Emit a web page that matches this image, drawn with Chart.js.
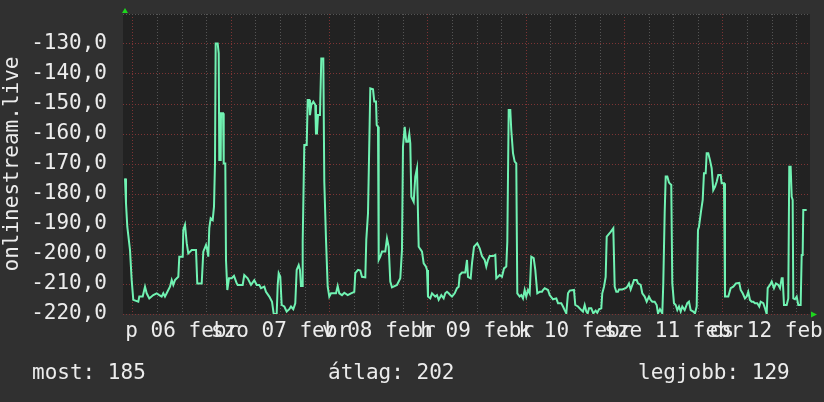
<!DOCTYPE html>
<html><head><meta charset="utf-8">
<script src="https://cdn.jsdelivr.net/npm/chart.js@4/dist/chart.umd.min.js"></script>
<style>
html,body{margin:0;background:#303030;}
#wrap{position:relative;width:824px;height:402px;}
canvas{display:block}
.st{position:absolute;top:362px;font:21px/21px "DejaVu Sans Mono",monospace;color:#ececec;white-space:pre}
</style></head><body>
<div id="wrap"><canvas id="c" width="824" height="402"></canvas></div>
<script>
'use strict';
// day labels (hu locale), one per day, placed at noon
const dayLabels=['p 06 febr','szo 07 febr','v 08 febr','h 09 febr','k 10 febr','sze 11 febr','cs 12 febr'];
// hours since 2015-02-06 00:00
const times=[-1.95,-1.71,-1.39,-0.73,-0.32,0.07,1.29,1.54,2.37,2.93,3.34,3.98,4.95,5.78,6.42,7.00,7.40,7.81,8.22,9.03,
9.45,9.84,10.25,11.06,11.30,12.13,12.28,12.69,13.11,13.50,14.33,15.38,15.69,16.77,17.16,17.82,18.13,18.38,18.62,18.96,
19.45,19.77,20.01,20.18,20.67,20.92,21.06,21.41,21.48,21.97,22.14,22.53,22.70,23.02,23.43,24.09,24.65,25.31,25.55,26.77,
27.16,27.99,28.80,29.61,30.19,30.83,31.24,32.05,32.46,33.27,33.93,34.34,35.07,35.32,35.56,35.95,36.29,36.93,37.51,38.15,
38.56,39.12,39.61,39.95,40.44,40.76,41.00,41.25,41.42,41.81,42.40,42.64,43.03,43.20,43.52,44.01,44.49,44.66,44.91,45.15,
45.64,45.96,46.45,46.69,47.11,47.52,47.91,48.33,49.55,49.96,50.35,51.01,51.57,52.40,53.21,54.01,54.26,54.92,55.48,55.89,
56.70,56.94,57.36,57.92,58.58,58.89,59.31,59.48,59.80,59.97,60.36,60.77,61.58,61.99,62.41,62.80,63.21,64.43,65.24,65.65,
65.90,66.31,66.70,67.12,67.44,67.68,67.93,68.51,68.90,69.32,69.56,69.73,70.54,70.95,71.51,71.76,72.00,72.56,72.98,73.78,
74.20,74.61,75.25,75.83,76.22,76.64,77.05,77.44,77.86,78.52,79.08,79.49,79.74,80.30,81.10,81.52,81.76,82.42,82.74,83.23,
84.03,84.62,85.18,85.84,86.23,86.64,87.06,87.87,88.43,88.67,89.09,89.50,90.06,90.55,91.11,91.36,91.70,92.09,92.33,92.75,
93.16,93.55,93.80,94.38,94.77,95.19,95.60,95.99,96.41,96.82,97.21,97.80,98.19,98.68,99.26,99.82,100.07,100.48,101.29,101.70,
102.51,103.32,103.73,104.53,104.95,105.36,105.76,106.17,106.59,107.63,107.95,108.61,109.42,109.83,110.25,110.64,110.98,111.30,111.86,112.35,
112.93,113.32,113.74,114.30,114.54,114.96,115.37,115.62,115.93,116.59,117.23,117.40,117.57,117.96,118.37,118.62,119.42,120.25,120.64,121.06,
121.47,121.87,122.28,122.94,123.26,123.91,124.31,124.89,125.38,125.94,126.35,126.75,127.33,127.82,128.14,128.62,129.19,129.43,129.77,130.02,
130.41,130.82,131.38,131.63,132.04,132.46,132.85,133.26,133.68,134.07,134.65,135.29,135.70,136.12,136.75,137.17,137.58,137.90,138.14,138.63,
139.05,139.36,139.78,140.02,140.41,140.83,141.24,141.63,142.05,142.46,142.85,143.44,143.68,144.25,144.49,145.30,145.88,146.52,147.17,147.98,
148.32,148.81,149.37,149.78,150.17,150.59,151.00,151.40,151.81,152.37,152.86,153.20,153.84,154.25,154.67,154.91,155.47,155.89,156.45,156.94,
157.50,157.91,158.33,158.57,158.89,159.55,159.94,160.18,160.52,160.77,161.01,161.16,161.57,161.99,162.38,162.96,163.21,163.45,163.60,164.43];
const onlineVals=[-174.8,-183.1,-190.9,-198.7,-208.7,-215.3,-215.9,-214.2,-214.2,-210.9,-213.1,-214.8,-213.7,-213.1,-213.7,-214.2,-213.1,-214.2,-213.1,-210.9,
-208.7,-210.3,-208.7,-207.6,-200.9,-200.9,-192,-190.3,-196.4,-199.8,-198.7,-198.7,-209.8,-209.8,-199.2,-197,-198.7,-200.9,-191.4,-188.1,
-188.7,-184.2,-169.8,-129.8,-129.8,-133.1,-168.7,-168.7,-153.1,-153.1,-169.8,-169.8,-202,-212,-208.1,-208.1,-207.3,-209.8,-210.3,-210.3,
-207,-208.1,-210.3,-208.7,-210.3,-210.3,-211.4,-210.9,-212.6,-214.2,-215.9,-220,-220,-210.3,-206.4,-207.6,-217,-217.5,-219.2,-218.4,
-217.5,-218.4,-216.4,-205.3,-203.7,-205.3,-210.7,-210.7,-195.9,-163.7,-163.7,-148.7,-148.7,-153.7,-150.3,-149.2,-150.3,-159.8,-159.8,-153.7,
-153.7,-134.8,-134.8,-175.9,-195.3,-210.9,-214.2,-213.1,-213.1,-210.7,-213.1,-213.7,-212.9,-213.7,-213.1,-212.6,-206.4,-205.3,-205.5,-207.6,
-207.8,-195.3,-186.4,-144.8,-145.1,-149.2,-149.2,-157,-157.6,-202,-200.9,-199.2,-199.2,-194.8,-197.6,-209.2,-211.1,-210.3,-208.1,-198.7,
-164.2,-157.6,-162.6,-162.6,-160,-163.1,-180.9,-182.6,-174.2,-171.4,-171.4,-197.6,-199.2,-203.1,-204.2,-205.3,-214.2,-214.8,-213.1,-214.2,
-213.7,-215.3,-213.7,-214.8,-213.1,-212.6,-213.1,-213.7,-214.2,-213.1,-211.4,-210.9,-207,-206.2,-206.2,-202,-207.6,-208.1,-203.1,-197.6,
-196.4,-198.1,-200.7,-202,-204.2,-202,-200.7,-200.7,-200.3,-208.1,-207.6,-207,-207.6,-204.8,-204.2,-195.9,-152,-152,-158.7,-166.4,
-169.2,-169.8,-213.1,-214.2,-213.7,-214.8,-212,-214.2,-212,-213.1,-200.9,-201.4,-205.3,-213.1,-212.6,-212.6,-212,-211.4,-212,-213.7,
-215.1,-214.8,-216.4,-216.4,-217.5,-218.7,-219.8,-213.1,-212.2,-212,-217,-217.5,-218.7,-219.2,-217,-219.2,-219.8,-218.1,-218.1,-219.8,
-218.9,-219.6,-218.4,-218.1,-213.1,-210.9,-207.6,-194.2,-193.7,-192.6,-191.4,-191.4,-210.9,-212.6,-212.6,-211.8,-211.8,-211.4,-210.9,-209.8,
-211.8,-210.3,-208.7,-208.7,-209.8,-210.3,-213.1,-214.2,-215.9,-214.2,-215.3,-215.9,-215.9,-217,-219.8,-218.4,-219.8,-209.8,-186.4,-174.2,
-174.2,-176.2,-177,-209.8,-216.4,-217,-218.7,-217.5,-219.2,-217.5,-218.7,-216.4,-215.9,-218.7,-219.2,-219.8,-217.5,-192,-190.9,-185.9,
-182,-173.1,-173.1,-166.4,-166.4,-168.7,-171.4,-178.7,-177.6,-175.9,-173.7,-173.7,-176.4,-176.4,-214.2,-214.2,-211.4,-210.9,-209.8,-209.6,
-212,-213.1,-214.8,-214.2,-212.6,-215.3,-215.9,-215.9,-216.4,-216.4,-217.5,-215.9,-216.4,-218.1,-220,-211.4,-210.3,-209.2,-211.4,-209.8,
-210.3,-211.4,-208.1,-208.1,-217,-217,-214.8,-170.9,-170.9,-180.9,-182,-214.8,-215.1,-214.2,-217,-217,-200.3,-200.3,-185.3,-185.3];
const statLabels=['most','átlag','legjobb'];
const statVals=[185,202,129];

const TXT='#ececec',RED='#7d3434',GREY='#555555',LINE='#70f2b2';
const statLeft=[32,328,638];
const wrap=document.getElementById('wrap');
statLabels.forEach((l,i)=>{const d=document.createElement('div');d.className='st';d.style.left=statLeft[i]+'px';d.textContent=`${l}: ${statVals[i]}`;wrap.appendChild(d);});

Chart.defaults.font.family='"DejaVu Sans Mono", monospace';
Chart.defaults.font.size=21;
Chart.defaults.color=TXT;

const plotBg={id:'plotBg',
  beforeDraw(ch){const {ctx,chartArea:a}=ch;ctx.save();ctx.fillStyle='#222222';ctx.fillRect(a.left,a.top,a.right-a.left,a.bottom-a.top);ctx.restore();},
  afterDraw(ch){const {ctx,chartArea:a}=ch;ctx.save();ctx.fillStyle='#1ed61e';
    ctx.beginPath();ctx.moveTo(a.left+2,a.top-6);ctx.lineTo(a.left-1,a.top-1);ctx.lineTo(a.left+5,a.top-1);ctx.fill();
    ctx.beginPath();ctx.moveTo(a.right+7,a.bottom+0.5);ctx.lineTo(a.right+1,a.bottom-2.5);ctx.lineTo(a.right+1,a.bottom+3.5);ctx.fill();
    ctx.restore();}};

new Chart(document.getElementById('c'),{type:'line',
  data:{datasets:[{data:times.map((t,i)=>({x:t,y:onlineVals[i]})),borderColor:LINE,borderWidth:2,pointRadius:0,tension:0,fill:false}]},
  options:{responsive:false,animation:false,devicePixelRatio:1,
    layout:{padding:{left:0,top:14,right:14,bottom:0}},
    plugins:{legend:{display:false},tooltip:{enabled:false}},
    scales:{
      x:{type:'linear',min:-2.44,max:165.24,
        afterBuildTicks:s=>{s.ticks=[];for(let h=0;h<=162;h+=6)s.ticks.push({value:h});},
        afterFit:s=>{s.height=88;s.paddingLeft=0;s.paddingRight=0;},
        grid:{color:c=>c.tick&&c.tick.value%24===0?RED:GREY,drawTicks:false},
        border:{display:false,dash:[1,2]},
        ticks:{padding:5,autoSkip:false,maxRotation:0,minRotation:0,color:TXT,
          callback:v=>v%24===12?dayLabels[(v-12)/24]:''}},
      y:{type:'linear',min:-220,max:-120,
        afterBuildTicks:s=>{s.ticks=[];for(let v=-220;v<=-120;v+=2)s.ticks.push({value:v});},
        afterFit:s=>{s.width=123;s.paddingTop=0;s.paddingBottom=0;},
        grid:{color:c=>c.tick&&c.tick.value%10===0&&c.tick.value<-120?RED:GREY,drawTicks:false},
        border:{display:false,dash:[1,2]},
        ticks:{padding:16,color:TXT,callback:v=>v%10===0&&v<=-130?v.toFixed(1).replace('.',','):''},
        title:{display:true,text:'onlinestream.live',color:TXT,padding:0,font:{size:21}}}
    }},
  plugins:[plotBg]});
</script>
</body></html>
